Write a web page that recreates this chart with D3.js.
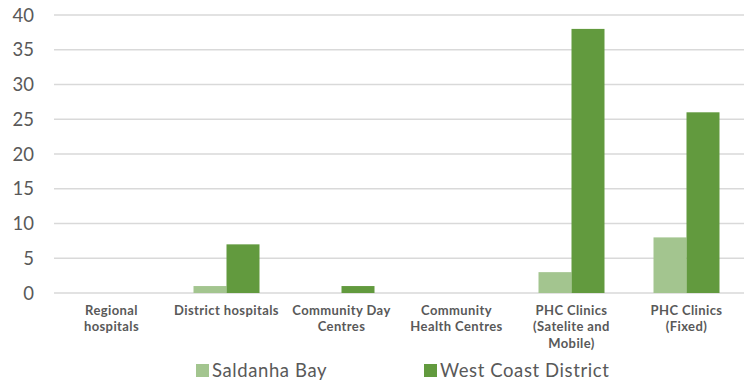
<!DOCTYPE html>
<html><head><meta charset="utf-8">
<script src="https://cdn.jsdelivr.net/npm/d3@7"></script>
<style>body{margin:0;background:#fff}svg{display:block}</style>
</head><body><svg id="c" width="747" height="384"></svg>
<script>
const categories = [["Regional","hospitals"],["District hospitals"],["Community Day","Centres"],["Community","Health Centres"],["PHC Clinics","(Satelite and","Mobile)"],["PHC Clinics","(Fixed)"]];
const seriesNames = ["Saldanha Bay","West Coast District"];
const saldanha = [0,1,0,0,3,8];
const westCoast = [0,7,1,0,38,26];
const yTicks = [0,5,10,15,20,25,30,35,40];
const colors = ["#a3c58f","#629a3e"];

const svg = d3.select("#c");
const m = {l:54, r:3, t:15, b:91};
const W = 747, H = 384;
const x = d3.scaleBand().domain(d3.range(categories.length)).range([m.l, W-m.r]).paddingInner(0).paddingOuter(0);
const y = d3.scaleLinear().domain([0,40]).range([H-m.b, m.t]);
const font = "'Century Gothic','Lato','Open Sans',sans-serif";

svg.append("g").selectAll("line").data(yTicks).join("line")
  .attr("x1", m.l).attr("x2", W-m.r).attr("y1", d=>y(d)).attr("y2", d=>y(d))
  .attr("stroke","#d9d9d9").attr("stroke-width",1.3);

svg.append("g").selectAll("text").data(yTicks).join("text")
  .attr("x", 34).attr("y", d=>y(d)).attr("dy","0.36em").attr("text-anchor","end")
  .attr("font-family",font).attr("font-size",18.5).attr("fill","#595959").text(d=>d);

const bw = 33;
const series = [saldanha, westCoast];
series.forEach((vals, si) => {
  svg.append("g").selectAll("rect").data(vals).join("rect")
    .attr("x", (d,i)=> x(i)+x.bandwidth()/2 - bw + si*bw)
    .attr("width", bw)
    .attr("y", d=>y(d)).attr("height", d=>y(0)-y(d))
    .attr("fill", colors[si]);
});

const lab = svg.append("g");
categories.forEach((lines,i)=>{
  const t = lab.append("text").attr("text-anchor","middle")
    .attr("font-family",font).attr("font-size",13).attr("letter-spacing",0.4).attr("font-weight","bold").attr("fill","#595959");
  lines.forEach((ln,j)=>{
    t.append("tspan").attr("x", x(i)+x.bandwidth()/2).attr("y", 315 + j*16.3).text(ln);
  });
});

const legX = [196, 424];
seriesNames.forEach((n,i)=>{
  svg.append("rect").attr("x",legX[i]).attr("y",364).attr("width",13).attr("height",13).attr("fill",colors[i]);
  svg.append("text").attr("x",legX[i]+16).attr("y",370.5).attr("dy","0.36em")
    .attr("font-family",font).attr("font-size",18.5).attr("letter-spacing",0.6).attr("fill","#595959").text(n);
});
</script></body></html>
